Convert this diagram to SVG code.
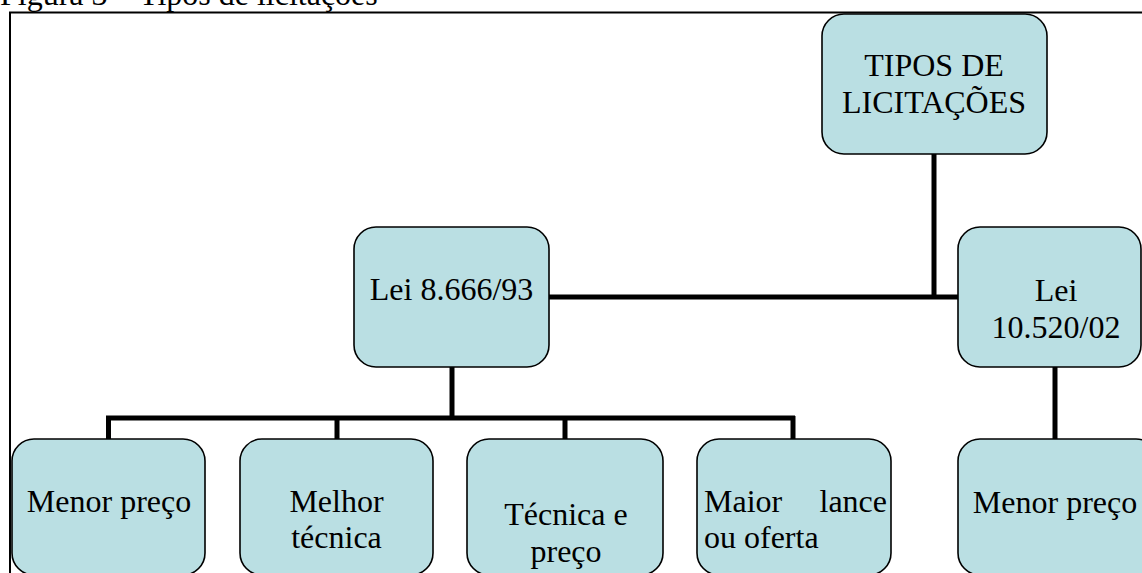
<svg xmlns="http://www.w3.org/2000/svg" width="1142" height="573" viewBox="0 0 1142 573">
<style>
.box{fill:#BADFE3;stroke:#000;stroke-width:1.6}
.t{font-family:"Liberation Serif","Times New Roman",serif;font-size:32px;fill:#000}
.c{text-anchor:middle}
.conn{stroke:#000;stroke-width:5;fill:none}
</style>
<rect width="1142" height="573" fill="#fff"/>
<text class="t" x="0" y="5">Figura 3 – Tipos de licitações</text>
<rect x="10" y="12.5" width="1200" height="620" fill="none" stroke="#000" stroke-width="2"/>
<g id="connectors">
<path class="conn" d="M934 154V297"/>
<path class="conn" d="M549 297H958"/>
<path class="conn" d="M452 367V418"/>
<path class="conn" d="M106 418H795"/>
<path class="conn" d="M108.5 416V439M337 416V439M565 416V439M793 416V439"/>
<path class="conn" d="M1055 367V440"/>
</g>
<g id="n-tipos">
<rect class="box" x="822" y="14" width="225" height="140" rx="22"/>
<text class="t c" x="934" y="76">TIPOS DE</text>
<text class="t c" x="934" y="113">LICITAÇÕES</text>
</g>
<g id="n-lei8666">
<rect class="box" x="354" y="227" width="195" height="140" rx="22"/>
<text class="t c" x="451.5" y="300">Lei 8.666/93</text>
</g>
<g id="n-lei10520">
<rect class="box" x="958" y="227" width="183" height="140" rx="22"/>
<text class="t c" x="1056" y="301">Lei</text>
<text class="t c" x="1056" y="338">10.520/02</text>
</g>
<g id="n-menor1">
<rect class="box" x="12" y="439" width="193" height="136" rx="22"/>
<text class="t c" x="109" y="512">Menor preço</text>
</g>
<g id="n-melhor">
<rect class="box" x="240" y="439" width="193" height="136" rx="22"/>
<text class="t c" x="336.5" y="512">Melhor</text>
<text class="t c" x="336.5" y="548">técnica</text>
</g>
<g id="n-tecpreco">
<rect class="box" x="467" y="439" width="196" height="136" rx="22"/>
<text class="t c" x="566" y="525">Técnica e</text>
<text class="t c" x="566" y="562">preço</text>
</g>
<g id="n-maior">
<rect class="box" x="697" y="439" width="194" height="136" rx="22"/>
<text class="t" x="704" y="512">Maior</text>
<text class="t" x="887" y="512" text-anchor="end">lance</text>
<text class="t" x="704" y="548">ou oferta</text>
</g>
<g id="n-menor2">
<rect class="box" x="958" y="439" width="200" height="136" rx="22"/>
<text class="t c" x="1055" y="513">Menor preço</text>
</g>
</svg>
